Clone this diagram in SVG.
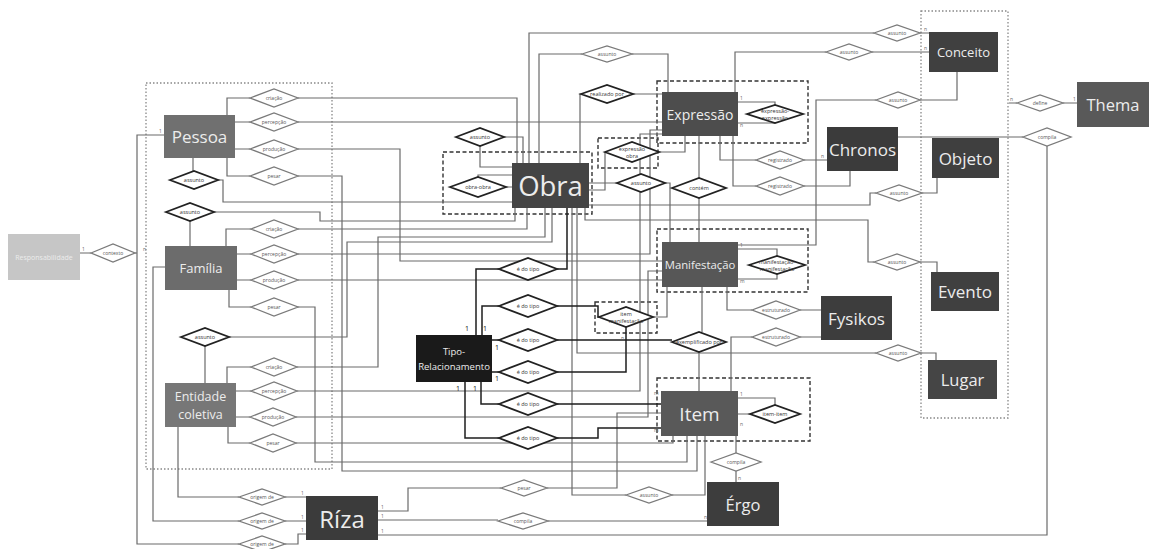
<svg xmlns="http://www.w3.org/2000/svg" width="1149" height="549" viewBox="0 0 1149 549">
<style>
.bg{fill:#ffffff}
.nt{font-family:"Open Sans","Noto Sans",sans-serif;fill:#ececec;text-anchor:middle;dominant-baseline:central}
.dl{font-family:"Open Sans","Noto Sans",sans-serif;fill:#555;text-anchor:middle;dominant-baseline:central;font-size:5px}
.dk{font-family:"Open Sans","Noto Sans",sans-serif;fill:#333;text-anchor:middle;dominant-baseline:central;font-size:5.5px}
.cd{font-family:"Open Sans","Noto Sans",sans-serif;fill:#666;font-size:5px}
.cb{font-family:"Open Sans","Noto Sans",sans-serif;fill:#111;font-size:7px}
.dt{fill:#fff;stroke:#7a7a7a;stroke-width:1.3}
.dT{fill:#fff;stroke:#222;stroke-width:1.8}
.c path{fill:none;stroke:#6a6a6a;stroke-width:1.2}
.c path.k{stroke:#1e1e1e;stroke-width:1.5}
.dot{fill:none;stroke:#888;stroke-width:1.3;stroke-dasharray:1.5 2}
.dsh{fill:none;stroke:#333;stroke-width:1.4;stroke-dasharray:4 2.5}
</style>
<rect class="bg" x="0" y="0" width="1149" height="549"/>

<!-- containers -->
<g id="containers">
<rect class="dot" x="146" y="83" width="186" height="386"/>
<rect class="dot" x="921" y="11" width="87" height="407"/>
<rect class="dsh" x="443" y="152" width="149" height="62"/>
<rect class="dsh" x="657" y="81" width="151" height="62"/>
<rect class="dsh" x="598" y="138" width="60" height="30"/>
<rect class="dsh" x="657" y="229" width="151" height="63"/>
<rect class="dsh" x="595" y="302" width="62" height="31"/>
<rect class="dsh" x="657" y="378" width="153" height="63"/>
</g>

<!-- connectors -->
<g id="connectors" class="c">
<path d="M164,135 H137 V544 H239"/>
<path d="M80,253 H91 M135,253 H137"/>
<path d="M165,267 H153 V521 H239"/>
<path d="M178,427 V497 H239"/>
<path d="M285,497 H306 M285,521 H306 M285,544 H298 V534 H306"/>
<path d="M227,115 V98 H250 M235,122 H250 M235,149 H250 M227,158 V176 H250"/>
<path d="M193,158 V171"/>
<path d="M190,221 V246"/>
<path d="M226,246 V229 H251 M237,254 H251 M237,280 H251 M229,290 V307 H251"/>
<path d="M205,346 V383"/>
<path d="M227,383 V367 H251 M236,391 H251 M236,417 H250 M228,427 V443 H250"/>
<path d="M298,98 H517 V163"/>
<path d="M298,122 H662"/>
<path d="M298,149 H400 V261 H662"/>
<path d="M298,176 H342 V471 H697 V436"/>
<path d="M218,180 H223 V202 H512"/>
<path d="M214,212 H320 V221 H515 V208"/>
<path d="M298,229 H527 V208"/>
<path d="M298,254 H650 V130 H662"/>
<path d="M298,280 H662"/>
<path d="M297,307 H315 V462 H687 V436"/>
<path d="M229,337 H347 V242 H552 V208"/>
<path d="M297,367 H378 V237 H545 V208"/>
<path d="M297,391 H640 V134 H662"/>
<path d="M296,417 H648 V271 H662"/>
<path d="M296,443 H673 V436"/>
<path d="M480,146 V167 H512 M504,137 H523 V163"/>
<path d="M506,187 H512 M478,177 V175 H512"/>
<path d="M580,163 V94 H581 M633,94 H662"/>
<path d="M539,163 V54 H582 M632,54 H668 V92"/>
<path d="M529,163 V33 H874 M920,33 H929"/>
<path d="M735,92 V52 H826 M872,52 H929"/>
<path d="M605,152 V190 H589 M659,152 H685 V136"/>
<path d="M617,183 H589 M665,183 H670 V242"/>
<path d="M699,136 V178 M699,198 V242"/>
<path d="M738,102 H775 V105 M738,123 H775 V123"/>
<path d="M720,136 V160 H756 M804,160 H827"/>
<path d="M733,136 V186 H756 M804,186 H850 V171"/>
<path d="M920,100 H957 V72 M876,100 H816 V245 H738"/>
<path d="M589,205 H870 V193 H876 M922,193 H937 V178"/>
<path d="M585,208 V220 H868 V262 H874 M920,262 H937 V272"/>
<path d="M577,208 V353 H876 M921,353 H936 V360"/>
<path d="M1009,103 H1017 M1063,103 H1077"/>
<path d="M898,137 H1023 M1047,146 V535 H378"/>
<path d="M738,249 H777 V256 M738,279 H777 V274"/>
<path d="M727,287 V310 H752 M800,310 H821"/>
<path d="M752,337 H731 V391 M800,337 H821"/>
<path d="M702,287 V332 M699,352 V391"/>
<path d="M653,317 H667 V287"/>
<path d="M738,398 H775 V405 M738,414 H750"/>
<path d="M736,436 V453 M736,471 V482"/>
<path d="M572,208 V495 H626 M672,495 H705 V436"/>
<path d="M378,511 H408 V488 H501 M547,488 H617 V413 H661"/>
<path d="M378,520 H498 M548,521 H707"/>
<path class="k" d="M476,335 V269 H499 M557,269 H567 V208"/>
<path class="k" d="M482,335 V306 H499 M557,306 H598 V317 H599"/>
<path class="k" d="M492,340 H499 M557,340 H672"/>
<path class="k" d="M492,372 H499 M557,372 H626 V327"/>
<path class="k" d="M481,382 V404 H499 M557,404 H661"/>
<path class="k" d="M465,382 V438 H499 M557,438 H598 V428 H661"/>
</g>

<!-- relationship diamonds -->
<g id="rel-pessoa">
<polygon class="dt" points="250,98 274,89 298,98 274,107"/><text class="dl" x="274" y="98">criação</text>
<polygon class="dt" points="250,122 274,113 298,122 274,131"/><text class="dl" x="274" y="122">percepção</text>
<polygon class="dt" points="250,149 274,140 298,149 274,158"/><text class="dl" x="274" y="149">produção</text>
<polygon class="dt" points="250,176 274,167 298,176 274,185"/><text class="dl" x="274" y="176">pesar</text>
<polygon class="dT" points="170,180 194,171 218,180 194,189"/><text class="dk" x="194" y="180">assunto</text>
</g>
<g id="rel-familia">
<polygon class="dT" points="166,212 190,203 214,212 190,221"/><text class="dk" x="190" y="212">assunto</text>
<polygon class="dt" points="251,229 274,220 298,229 274,238"/><text class="dl" x="274" y="229">criação</text>
<polygon class="dt" points="251,254 274,245 298,254 274,263"/><text class="dl" x="274" y="254">percepção</text>
<polygon class="dt" points="251,280 274,271 298,280 274,289"/><text class="dl" x="274" y="280">produção</text>
<polygon class="dt" points="251,307 274,298 298,307 274,316"/><text class="dl" x="274" y="307">pesar</text>
</g>
<g id="rel-entidade">
<polygon class="dT" points="181,337 205,328 229,337 205,346"/><text class="dk" x="205" y="337">assunto</text>
<polygon class="dt" points="251,367 274,358 297,367 274,376"/><text class="dl" x="274" y="367">criação</text>
<polygon class="dt" points="251,391 274,382 297,391 274,400"/><text class="dl" x="274" y="391">percepção</text>
<polygon class="dt" points="250,417 273,408 296,417 273,426"/><text class="dl" x="273" y="417">produção</text>
<polygon class="dt" points="250,443 273,434 296,443 273,452"/><text class="dl" x="273" y="443">pesar</text>
</g>
<g id="rel-contexto">
<polygon class="dt" points="91,253 113,244 135,253 113,262"/><text class="dl" x="113" y="253">contexto</text>
</g>
<g id="rel-origem">
<polygon class="dt" points="239,497 262,489 285,497 262,505"/><text class="dl" x="262" y="497">origem de</text>
<polygon class="dt" points="239,521 262,513 285,521 262,529"/><text class="dl" x="262" y="521">origem de</text>
<polygon class="dt" points="239,544 262,536 285,544 262,552"/><text class="dl" x="262" y="544">origem de</text>
</g>
<g id="rel-obra">
<polygon class="dT" points="456,137 480,128 504,137 480,146"/><text class="dk" x="480" y="137">assunto</text>
<polygon class="dT" points="450,187 478,177 506,187 478,197"/><text class="dk" x="478" y="187">obra-obra</text>
<polygon class="dT" points="581,94 607,85 633,94 607,103"/><text class="dk" x="607" y="94">realizado por</text>
<polygon class="dt" points="582,54 607,46 632,54 607,62"/><text class="dl" x="607" y="54">assunto</text>
<polygon class="dT" points="605,152 632,142 659,152 632,162"/><text class="dk" x="632" y="149">expressão</text><text class="dk" x="632" y="155.5">obra</text>
<polygon class="dT" points="617,183 641,174 665,183 641,192"/><text class="dk" x="641" y="183">assunto</text>
<polygon class="dT" points="672,188 699,178 726,188 699,198"/><text class="dk" x="699" y="188">contém</text>
</g>
<g id="rel-expressao">
<polygon class="dT" points="747,114 775,105 803,114 775,123"/><text class="dk" x="775" y="111">expressão-</text><text class="dk" x="775" y="117.5">expressão</text>
<polygon class="dt" points="756,160 780,151 804,160 780,169"/><text class="dl" x="780" y="160">registrado</text>
<polygon class="dt" points="756,186 780,177 804,186 780,195"/><text class="dl" x="780" y="186">registrado</text>
</g>
<g id="rel-conceito">
<polygon class="dt" points="874,33 897,25 920,33 897,41"/><text class="dl" x="897" y="33">assunto</text>
<polygon class="dt" points="826,52 849,44 872,52 849,60"/><text class="dl" x="849" y="52">assunto</text>
<polygon class="dt" points="876,100 898,92 920,100 898,108"/><text class="dl" x="898" y="100">assunto</text>
<polygon class="dt" points="876,193 899,185 922,193 899,201"/><text class="dl" x="899" y="193">assunto</text>
<polygon class="dt" points="874,262 897,254 920,262 897,270"/><text class="dl" x="897" y="262">assunto</text>
<polygon class="dt" points="876,353 898,345 921,353 898,361"/><text class="dl" x="898" y="353">assunto</text>
</g>
<g id="rel-thema">
<polygon class="dt" points="1017,103 1040,95 1063,103 1040,111"/><text class="dl" x="1040" y="103">define</text>
<polygon class="dt" points="1023,137 1047,128 1071,137 1047,146"/><text class="dl" x="1047" y="137">compila</text>
</g>
<g id="rel-manifestacao">
<polygon class="dT" points="749,265 777,256 805,265 777,274"/><text class="dk" x="777" y="262">manifestação-</text><text class="dk" x="777" y="268.5">manifestação</text>
<polygon class="dt" points="752,310 776,301 800,310 776,319"/><text class="dl" x="776" y="310">estruturado</text>
<polygon class="dt" points="752,337 776,328 800,337 776,346"/><text class="dl" x="776" y="337">estruturado</text>
<polygon class="dT" points="672,342 699,332 726,342 699,352"/><text class="dk" x="699" y="342">exemplificado por</text>
<polygon class="dT" points="599,317 626,307 653,317 626,327"/><text class="dk" x="626" y="314">item</text><text class="dk" x="626" y="320.5">manifestação</text>
</g>
<g id="rel-item">
<polygon class="dT" points="750,414 775,405 800,414 775,423"/><text class="dk" x="775" y="414">item-item</text>
<polygon class="dt" points="711,462 736,453 761,462 736,471"/><text class="dl" x="736" y="462">compila</text>
<polygon class="dt" points="626,495 649,487 672,495 649,503"/><text class="dl" x="649" y="495">assunto</text>
<polygon class="dt" points="501,488 524,480 547,488 524,496"/><text class="dl" x="524" y="488">pesar</text>
<polygon class="dt" points="498,521 523,513 548,521 523,529"/><text class="dl" x="523" y="521">compila</text>
</g>
<g id="rel-tipo">
<polygon class="dT" points="499,269 528,258 557,269 528,280"/><text class="dk" x="528" y="269">é do tipo</text>
<polygon class="dT" points="499,306 528,295 557,306 528,317"/><text class="dk" x="528" y="306">é do tipo</text>
<polygon class="dT" points="499,340 528,329 557,340 528,351"/><text class="dk" x="528" y="340">é do tipo</text>
<polygon class="dT" points="499,372 528,361 557,372 528,383"/><text class="dk" x="528" y="372">é do tipo</text>
<polygon class="dT" points="499,404 528,393 557,404 528,415"/><text class="dk" x="528" y="404">é do tipo</text>
<polygon class="dT" points="499,438 528,427 557,438 528,449"/><text class="dk" x="528" y="438">é do tipo</text>
</g>

<!-- entity nodes -->
<g id="responsabilidade"><rect x="8" y="234" width="72" height="46" fill="#c6c6c6"/><text class="nt" x="44" y="257" font-size="7" fill="#eeeeee">Responsabilidade</text></g>
<g id="pessoa"><rect x="164" y="115" width="71" height="43" fill="#707070"/><text class="nt" x="199.5" y="136.5" font-size="17">Pessoa</text></g>
<g id="familia"><rect x="165" y="246" width="72" height="44" fill="#6c6c6c"/><text class="nt" x="201" y="268" font-size="13">Família</text></g>
<g id="entidade"><rect x="165" y="383" width="71" height="44" fill="#777777"/><text class="nt" x="200.5" y="396" font-size="12.5">Entidade</text><text class="nt" x="200.5" y="414" font-size="12.5">coletiva</text></g>
<g id="obra"><rect x="512" y="163" width="77" height="45" fill="#444444"/><text class="nt" x="550.5" y="185.5" font-size="27.5">Obra</text></g>
<g id="expressao"><rect x="662" y="92" width="76" height="44" fill="#4d4d4d"/><text class="nt" x="700" y="114" font-size="14">Expressão</text></g>
<g id="manifestacao"><rect x="662" y="242" width="76" height="45" fill="#575757"/><text class="nt" x="700" y="264.5" font-size="11.3" fill="#d8d8d8">Manifestação</text></g>
<g id="item"><rect x="661" y="391" width="77" height="45" fill="#595959"/><text class="nt" x="699.5" y="413.5" font-size="19">Item</text></g>
<g id="tipo-relacionamento"><rect x="416" y="335" width="76" height="47" fill="#1a1a1a"/><text class="nt" x="454" y="351" font-size="9.5">Tipo-</text><text class="nt" x="454" y="366" font-size="9.5">Relacionamento</text></g>
<g id="chronos"><rect x="827" y="127" width="71" height="44" fill="#3b3b3b"/><text class="nt" x="862.5" y="149" font-size="17">Chronos</text></g>
<g id="conceito"><rect x="929" y="32" width="69" height="40" fill="#404040"/><text class="nt" x="963.5" y="52" font-size="13">Conceito</text></g>
<g id="objeto"><rect x="932" y="138" width="67" height="40" fill="#3f3f3f"/><text class="nt" x="965.5" y="158" font-size="17">Objeto</text></g>
<g id="thema"><rect x="1077" y="82" width="72" height="45" fill="#595959"/><text class="nt" x="1113" y="104.5" font-size="16.5">Thema</text></g>
<g id="evento"><rect x="931" y="272" width="68" height="39" fill="#404040"/><text class="nt" x="965" y="291.5" font-size="17">Evento</text></g>
<g id="fysikos"><rect x="821" y="296" width="71" height="44" fill="#3d3d3d"/><text class="nt" x="856.5" y="318" font-size="17">Fysikos</text></g>
<g id="lugar"><rect x="928" y="360" width="69" height="39" fill="#454545"/><text class="nt" x="962.5" y="379.5" font-size="16.5">Lugar</text></g>
<g id="ergo"><rect x="707" y="482" width="72" height="44" fill="#3d3d3d"/><text class="nt" x="743" y="504" font-size="16.5">Érgo</text></g>
<g id="riza"><rect x="306" y="496" width="72" height="44" fill="#3b3b3b"/><text class="nt" x="342" y="518" font-size="24">Ríza</text></g>

<!-- cardinalities -->
<g id="cardinalities">
<text class="cb" x="465" y="331">1</text><text class="cb" x="483" y="331">1</text>
<text class="cb" x="495" y="350">1</text><text class="cb" x="495" y="381">1</text>
<text class="cb" x="456" y="391">1</text><text class="cb" x="473" y="391">1</text>
<text class="cd" x="301" y="495">1</text><text class="cd" x="301" y="519">1</text><text class="cd" x="301" y="532">1</text>
<text class="cd" x="381" y="509">1</text><text class="cd" x="381" y="518">1</text><text class="cd" x="381" y="533">1</text>
<text class="cd" x="159" y="133">1</text><text class="cd" x="143" y="251">n</text><text class="cd" x="82" y="251">1</text>
<text class="cd" x="621" y="340">n</text><text class="cd" x="654" y="395">m</text><text class="cd" x="654" y="432">m</text>
<text class="cd" x="740" y="247">1</text><text class="cd" x="740" y="283">m</text>
<text class="cd" x="740" y="100">1</text><text class="cd" x="740" y="127">n</text>
<text class="cd" x="740" y="396">1</text><text class="cd" x="740" y="426">n</text>
<text class="cd" x="821" y="158">n</text><text class="cd" x="1073" y="101">1</text><text class="cd" x="1010" y="101">n</text>
<text class="cd" x="924" y="31">n</text><text class="cd" x="924" y="50">n</text>
<text class="cd" x="738" y="480">n</text><text class="cd" x="704" y="519">n</text>
</g>
</svg>
